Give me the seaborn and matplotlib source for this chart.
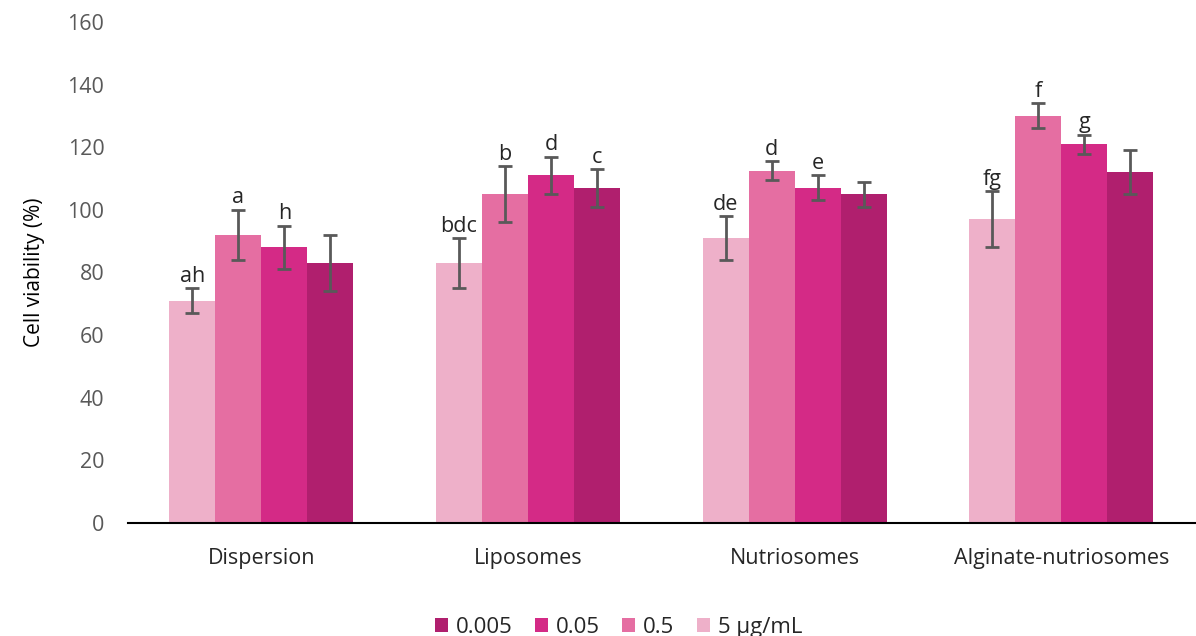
import matplotlib
matplotlib.use("Agg")
import matplotlib.pyplot as plt
import seaborn as sns
import pandas as pd
from matplotlib.patches import Patch

# Formulations on the x axis
categories = ["Dispersion", "Liposomes", "Nutriosomes", "Alginate-nutriosomes"]
# Concentrations, in the order the bars are drawn within each group
concentrations = ["5 µg/mL", "0.5", "0.05", "0.005"]

# Mean cell viability (%) per concentration
viability_5 = [71, 83, 91, 97]
viability_05 = [92, 105, 112.5, 130]
viability_005 = [88, 111, 107, 121]
viability_0005 = [83, 107, 105, 112]

# Standard deviations
sd_5 = [4, 8, 7, 9]
sd_05 = [8, 9, 3, 4]
sd_005 = [7, 6, 4, 3]
sd_0005 = [9, 6, 4, 7]

# Significance letters above each bar ("" = none)
letters_5 = ["ah", "bdc", "de", "fg"]
letters_05 = ["a", "b", "d", "f"]
letters_005 = ["h", "d", "e", "g"]
letters_0005 = ["", "c", "", ""]

colors = ["#EEB0C9", "#E56EA2", "#D42A86", "#B01F6E"]

means = [viability_5, viability_05, viability_005, viability_0005]
sds = [sd_5, sd_05, sd_005, sd_0005]
letters = [letters_5, letters_05, letters_005, letters_0005]

rows = []
for conc, m, s, l in zip(concentrations, means, sds, letters):
    for cat, v, e, t in zip(categories, m, s, l):
        rows.append({"Formulation": cat, "Concentration": conc,
                     "Viability": v, "SD": e, "Letter": t})
df = pd.DataFrame(rows)

sns.set_theme(style="white")
plt.rcParams["font.family"] = ["Open Sans", "DejaVu Sans"]

fig = plt.figure(figsize=(11.96, 6.36), dpi=100)
ax = fig.add_axes([0.107, 0.1777, 0.892, 0.7877])

sns.barplot(data=df, x="Formulation", y="Viability", hue="Concentration",
            order=categories, hue_order=concentrations, palette=colors,
            width=0.69, errorbar=None, saturation=1, ax=ax, legend=False,
            edgecolor="none")

# Error bars and significance letters, placed on each drawn bar
bar_containers = list(ax.containers)
for conc, container in zip(concentrations, bar_containers):
    sub = df[df["Concentration"] == conc].set_index("Formulation").loc[categories]
    for bar, (_, row) in zip(container, sub.iterrows()):
        xc = bar.get_x() + bar.get_width() / 2
        ax.errorbar(xc, row["Viability"], yerr=row["SD"], fmt="none",
                    ecolor="#595959", elinewidth=2, capsize=5, capthick=2)
        if row["Letter"]:
            ax.annotate(row["Letter"], (xc, row["Viability"] + row["SD"]),
                        xytext=(0, 1), textcoords="offset points",
                        ha="center", va="bottom", fontsize=15.5, color="#262626")

ax.set_xlim(-0.5, 3.5)
ax.set_ylim(0, 160)
ax.set_yticks(range(0, 161, 20))
ax.tick_params(axis="y", length=0, labelsize=15.5, labelcolor="#595959", pad=17)
ax.tick_params(axis="x", length=0, labelsize=15.5, labelcolor="#262626", pad=18)
ax.set_xlabel("")
ax.set_ylabel("Cell viability (%)", fontsize=15, color="black", labelpad=16)

for side in ["top", "right", "left"]:
    ax.spines[side].set_visible(False)
ax.spines["bottom"].set_color("black")
ax.spines["bottom"].set_linewidth(1.5)

handles = [Patch(facecolor=colors[i], edgecolor="none") for i in [3, 2, 1, 0]]
labels = [concentrations[i] for i in [3, 2, 1, 0]]
fig.legend(handles, labels, loc="lower center", bbox_to_anchor=(0.517, -0.035),
           ncol=4, frameon=False, fontsize=16, handlelength=0.6,
           handleheight=0.6, handletextpad=0.35, columnspacing=1.0)

fig.savefig("out.png", dpi=100)
